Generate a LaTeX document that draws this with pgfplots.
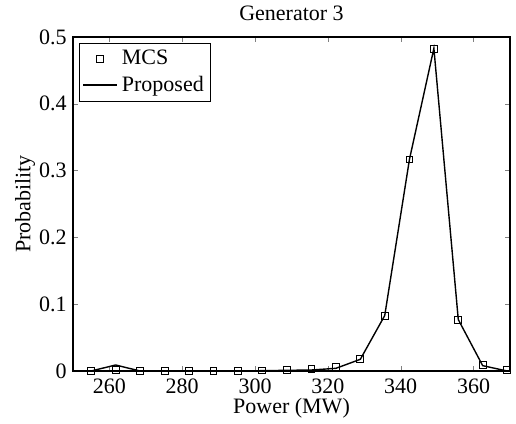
\documentclass[border=0pt]{standalone}
\usepackage{fontspec}
\setmainfont{Liberation Serif}
\usepackage{pgfplots}
\pgfplotsset{compat=1.18}
\pgfplotsset{every tick label/.append style={font=\fontsize{11}{13}\selectfont}}

\begin{document}
\begin{tikzpicture}
\begin{axis}[
  scale only axis,
  width=218.5pt, height=167pt,
  xmin=250, xmax=370, ymin=0, ymax=0.5,
  xtick={260,280,300,320,340,360},
  xticklabels={260,280,300,320,340,360},
  ytick={0,0.1,0.2,0.3,0.4,0.5},
  yticklabels={0,0.1,0.2,0.3,0.4,0.5},
  tick align=inside, major tick length=2.5pt,
  axis line style={line width=0.6pt},
  font=\fontsize{11}{13}\selectfont,
  xlabel={Power (MW)}, ylabel={Probability},
  title={Generator 3},
  xlabel style={at={([yshift=-18.5pt]axis description cs:0.5,0)},anchor=center,inner sep=0pt},
  ylabel style={at={([xshift=-24pt]axis description cs:0,0.5)},anchor=center,inner sep=0pt},
  title style={at={([yshift=6pt]axis description cs:0.5,1)},anchor=center,inner sep=0pt},
  yticklabel style={anchor=east,inner sep=0pt,xshift=-3pt},
  xticklabel style={anchor=center,inner sep=0pt,yshift=-7.5pt},
  legend style={at={(0.0137,0.982)},anchor=north west,draw=black,
    font=\fontsize{11}{13}\selectfont,inner sep=1.5pt,row sep=0pt},
  legend cell align=left,
]
\addplot[only marks,mark=square,mark size=1.7pt,mark options={line width=0.5pt,black}] coordinates {
  (255.0,0.0005)(261.7,0.001)(268.4,0.0005)(275.2,0.0005)(281.9,0.0005)(288.6,0.0005)
  (295.3,0.0005)(302.0,0.0008)(308.8,0.0015)(315.5,0.003)(322.2,0.006)(328.9,0.0175)
  (335.6,0.0823)(342.4,0.3165)(349.1,0.4825)(355.8,0.0763)(362.5,0.0085)(369.2,0.001)};
\addlegendentry{MCS}
\addplot[black,line width=0.7pt,mark=none] coordinates {
  (255.0,0)(261.7,0.009)(268.4,0)(275.2,0)(281.9,0)(288.6,0)
  (295.3,0)(302.0,0.0005)(308.8,0.001)(315.5,0.0015)(322.2,0.004)(328.9,0.0175)
  (335.6,0.083)(342.4,0.317)(349.1,0.483)(355.8,0.077)(362.5,0.008)(369.2,0)};
\addlegendentry{Proposed}
\end{axis}
\path ([xshift=-36.5pt,yshift=-26.5pt]current axis.south west) rectangle ([xshift=3pt,yshift=18.5pt]current axis.north east);
\end{tikzpicture}
\end{document}
